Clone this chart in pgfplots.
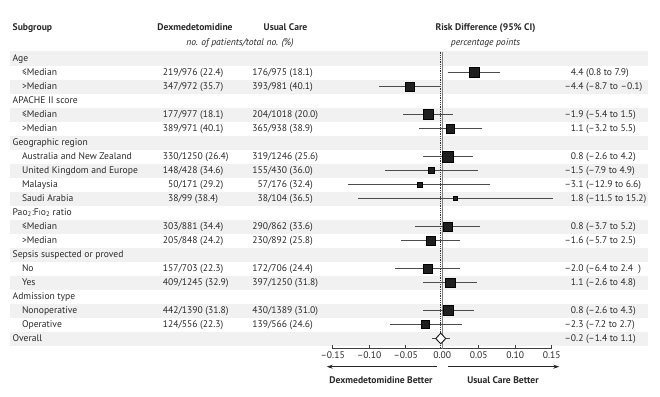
\documentclass[border=0pt]{standalone}
\usepackage{pgfplots}
\pgfplotsset{compat=1.18}
\usepackage{pgfplotstable}
\usepackage{fontspec}
\setmainfont{PT Sans}
\usetikzlibrary{arrows.meta}
\definecolor{band}{HTML}{F1F1F1}
\definecolor{txt}{HTML}{2A2A2A}
\newcommand\fs{\fontsize{9.6}{11}\selectfont}
\pgfplotstableread{
row est lo hi s
1 0.044 0.008 0.079 5.0
2 -0.044 -0.087 -0.001 4.5
4 -0.019 -0.054 0.015 5.15
5 0.011 -0.032 0.055 4.35
7 0.008 -0.026 0.042 5.35
8 -0.015 -0.079 0.049 3.15
9 -0.031 -0.129 0.066 2.5
10 0.018 -0.115 0.152 2.0
12 0.008 -0.037 0.052 4.35
13 -0.016 -0.057 0.025 4.65
15 -0.020 -0.064 0.024 4.35
16 0.011 -0.026 0.048 4.65
18 0.008 -0.026 0.043 5.0
19 -0.023 -0.072 0.027 3.85
}\rd
\newcommand\ry[1]{\pgfmathsetmacro\yy{-(58.5+14*#1)}}
\newcommand\grp[2]{\ry{#1}\node[anchor=mid west] at (12.7,\yy) {#2};}
\newcommand\sub[8]{\ry{#1}%
 \node[anchor=mid west] at (22,\yy) {#2};
 \node[anchor=mid east] at (178.5,\yy) {#3};
 \node[anchor=mid west] at (178.5,\yy) {/#4};
 \node[anchor=mid east] at (268,\yy) {#5};
 \node[anchor=mid west] at (268,\yy) {/#6};
 \node[anchor=mid east] at (583.5,\yy) {#7};
 \node[anchor=mid west] at (583.5,\yy) {\ (#8)};}
\begin{document}
\begin{tikzpicture}[x=1pt,y=1pt,every node/.style={inner sep=0pt,outer sep=0pt,text=txt,font=\fs}]
\path[use as bounding box,fill=white] (0,0) rectangle (660,-396);
\foreach \i in {0,2,...,20}{\fill[band] (10,{-(51.5+14*\i)}) rectangle (648,{-(65.5+14*\i)});}
% headers
\node[anchor=mid west,font=\fs\bfseries] at (12.7,-28.3) {Subgroup};
\node[anchor=mid,font=\fs\bfseries] at (195,-28.3) {Dexmedetomidine};
\node[anchor=mid,font=\fs\bfseries] at (285.5,-28.3) {Usual Care};
\node[anchor=mid,font=\fs\itshape] at (240,-43.3) {no. of patients/total no. (\%)};
\node[anchor=mid,font=\fs\bfseries] at (485.5,-28.3) {Risk Difference (95\% CI)};
\node[anchor=mid,font=\fs\itshape] at (485.5,-43.3) {percentage points};
% rows
\grp{0}{Age}
\sub{1}{≤Median}{219}{976 (22.4)}{176}{975 (18.1)}{4.4}{0.8 to 7.9}
\sub{2}{>Median}{347}{972 (35.7)}{393}{981 (40.1)}{–4.4}{–8.7 to –0.1}
\grp{3}{APACHE II score}
\sub{4}{≤Median}{177}{977 (18.1)}{204}{1018 (20.0)}{–1.9}{–5.4 to 1.5}
\sub{5}{>Median}{389}{971 (40.1)}{365}{938 (38.9)}{1.1}{–3.2 to 5.5}
\grp{6}{Geographic region}
\sub{7}{Australia and New Zealand}{330}{1250 (26.4)}{319}{1246 (25.6)}{0.8}{–2.6 to 4.2}
\sub{8}{United Kingdom and Europe}{148}{428 (34.6)}{155}{430 (36.0)}{–1.5}{–7.9 to 4.9}
\sub{9}{Malaysia}{50}{171 (29.2)}{57}{176 (32.4)}{–3.1}{–12.9 to 6.6}
\sub{10}{Saudi Arabia}{38}{99 (38.4)}{38}{104 (36.5)}{1.8}{–11.5 to 15.2}
\grp{11}{Pao\textsubscript{2}:F\scalebox{0.72}{I}o\textsubscript{2} ratio}
\sub{12}{≤Median}{303}{881 (34.4)}{290}{862 (33.6)}{0.8}{–3.7 to 5.2}
\sub{13}{>Median}{205}{848 (24.2)}{230}{892 (25.8)}{–1.6}{–5.7 to 2.5}
\grp{14}{Sepsis suspected or proved}
\sub{15}{No}{157}{703 (22.3)}{172}{706 (24.4)}{–2.0}{–6.4 to 2.4\ \ }
\sub{16}{Yes}{409}{1245 (32.9)}{397}{1250 (31.8)}{1.1}{–2.6 to 4.8}
\grp{17}{Admission type}
\sub{18}{Nonoperative}{442}{1390 (31.8)}{430}{1389 (31.0)}{0.8}{–2.6 to 4.3}
\sub{19}{Operative}{124}{556 (22.3)}{139}{566 (24.6)}{–2.3}{–7.2 to 2.7}
\grp{20}{Overall}
\ry{20}
\node[anchor=mid east] at (583.5,\yy) {–0.2};
\node[anchor=mid west] at (583.5,\yy) {\ (–1.4 to 1.1)};
\begin{axis}[
  at={(332.7pt,-348.5pt)}, anchor=south west,
  scale only axis, width=219pt, height=297pt,
  xmin=-0.15, xmax=0.15, ymin=-20.714, ymax=0.5,
  axis x line=bottom, axis y line=none,
  x axis line style={-, draw=black!75, line width=0.8pt},
  xtick={-0.15,-0.10,-0.05,0,0.05,0.10,0.15},
  xticklabels={–0.15,–0.10,–0.05,0.00,0.05,0.10,0.15},
  tick align=inside, major tick length=4pt,
  tick style={draw=black!75, line width=0.8pt},
  xticklabel style={font=\fs, text=txt, inner sep=3.5pt},
  clip=false,
]
\addplot[draw=black!50, line width=0.8pt] coordinates {(0,0.5) (0,-20.714)};
\addplot[draw=black!80, line width=0.8pt, densely dotted] coordinates {(-0.002,0.5) (-0.002,-20.714)};
\addplot[only marks, mark=none, error bars/.cd, x dir=both, x explicit, error mark=none,
  error bar style={draw=black!70, line width=0.9pt}]
  table[x=est, y expr=-\thisrow{row}, x error plus expr=\thisrow{hi}-\thisrow{est}, x error minus expr=\thisrow{est}-\thisrow{lo}] {\rd};
\addplot[scatter, only marks, mark=square*,
  scatter/use mapped color={draw=none, fill=black!88},
  visualization depends on={\thisrow{s} \as \msz},
  scatter/@pre marker code/.append style={/tikz/mark size=\msz}]
  table[x=est, y expr=-\thisrow{row}] {\rd};
% overall
\addplot[only marks, mark=diamond*, mark size=5.2pt, mark options={xscale=1.3, fill=white, draw=black!90, line width=0.9pt}] coordinates {(-0.002,-20)};
\addplot[draw=black!70, line width=0.9pt] coordinates {(-0.014,-20) (0.011,-20)};
\end{axis}
\draw[black!85, line width=0.8pt, -{Stealth[length=6pt,width=4pt]}] (436.7,-366.7) -- (326.7,-366.7);
\draw[black!85, line width=0.8pt, -{Stealth[length=6pt,width=4pt]}] (448.3,-366.7) -- (559.3,-366.7);
\node[anchor=mid,font=\fs\bfseries] at (381,-381) {Dexmedetomidine Better};
\node[anchor=mid,font=\fs\bfseries] at (503,-381) {Usual Care Better};
\end{tikzpicture}
\end{document}
